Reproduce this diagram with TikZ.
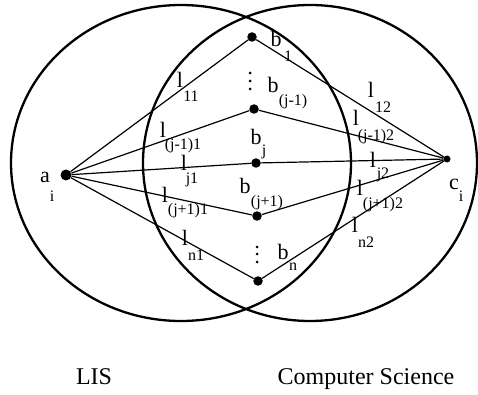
\documentclass[tikz,border=0pt]{standalone}
\usepackage{fontspec}
\setmainfont{Liberation Serif}
\begin{document}
\begin{tikzpicture}[x=1pt,y=-1pt,
  dot/.style={circle,fill=black,inner sep=0pt,minimum size=9.5pt},
  main/.style={inner sep=0pt,font=\fontsize{22}{24}\selectfont},
  sub/.style={inner sep=0pt,font=\fontsize{16}{18}\selectfont},
  big/.style={inner sep=0pt,font=\fontsize{24}{26}\selectfont},
  ring/.style={line width=2.3pt},
  link/.style={line width=1.2pt},
  vdot/.style={fill=black}]
\useasboundingbox (0,0) rectangle (478,395);
% circles
\draw[ring] (181,163) ellipse [x radius=170pt, y radius=158pt];
\draw[ring] (310,163) ellipse [x radius=167pt, y radius=158pt];
% nodes
\node[dot,minimum size=11pt] (a) at (66,175) {};
\node[dot,minimum size=7pt] (c) at (447,159) {};
\node[dot] (b1) at (252,37) {};
\node[dot] (bjm) at (254,109) {};
\node[dot] (bj) at (256,163) {};
\node[dot] (bjp) at (257,216) {};
\node[dot] (bn) at (258,281) {};
% connectors
\foreach \b in {b1,bjm,bj,bjp,bn}{
  \draw[link] (a) -- (\b);
  \draw[link] (\b) -- (c);
}
% vertical dots
\foreach \y in {73,81,89} \fill[vdot] (250,\y) circle (1.5pt);
\foreach \y in {247,254,262} \fill[vdot] (257,\y) circle (1.5pt);
% labels a, c
\node[main] (la) at (45,177) {a};
\node[sub] (lai) at (52,196) {i};
\node[main] (lc) at (454,184) {c};
\node[sub] (lci) at (461,196) {i};
% b labels
\node[main] (lb1) at (276,39) {b};
\node[sub] (lb1s) at (288,56) {1};
\node[main] (lbjm) at (273,85) {b};
\node[sub] (lbjms) at (293,102) {(j-1)};
\node[main] (lbj) at (256,137) {b};
\node[sub] (lbjs) at (264,152) {j};
\node[main] (lbjp) at (245,186) {b};
\node[sub] (lbjps) at (267,203) {(j+1)};
\node[main] (lbn) at (283,252) {b};
\node[sub] (lbns) at (293,267) {n};
% l labels, left
\node[main] (l11) at (180,80) {l};
\node[sub] (l11s) at (191,96) {11};
\node[main] (lj1m) at (163,130) {l};
\node[sub] (lj1ms) at (183,146) {(j-1)1};
\node[main] (lj1) at (184,163) {l};
\node[sub] (lj1s) at (192,180) {j1};
\node[main] (lj1p) at (165,195) {l};
\node[sub] (lj1ps) at (188,211) {(j+1)1};
\node[main] (ln1) at (185,238) {l};
\node[sub] (ln1s) at (196,255) {n1};
% l labels, right
\node[main] (l12) at (371,90) {l};
\node[sub] (l12s) at (383,107) {12};
\node[main] (lj2m) at (356,118) {l};
\node[sub] (lj2ms) at (376,137) {(j-1)2};
\node[main] (lj2) at (373,160) {l};
\node[sub] (lj2s) at (383,175) {j2};
\node[main] (lj2p) at (360,188) {l};
\node[sub] (lj2ps) at (383,205) {(j+1)2};
\node[main] (ln2) at (355,225) {l};
\node[sub] (ln2s) at (366,242) {n2};
% captions
\node[big] (lis) at (94,377) {LIS};
\node[big] (cs) at (366,379) {Computer Science};
\end{tikzpicture}
\end{document}
